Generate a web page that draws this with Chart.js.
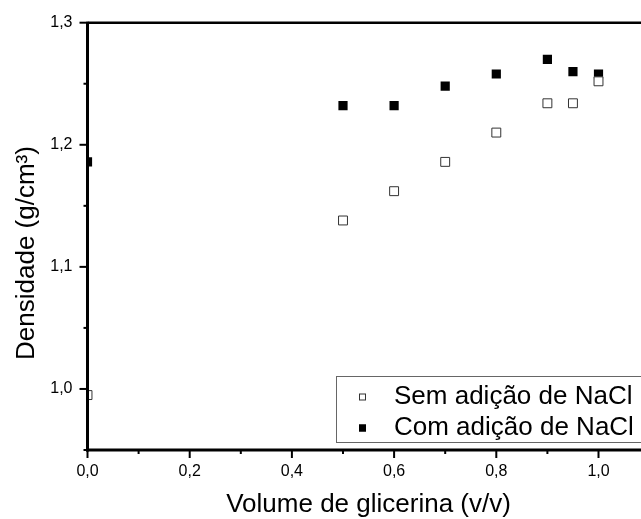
<!DOCTYPE html>
<html>
<head>
<meta charset="utf-8">
<script src="https://cdn.jsdelivr.net/npm/chart.js@4.4.1/dist/chart.umd.min.js"></script>
<style>
  body { margin: 0; background: #fff; }
  #wrap { width: 641px; height: 519px; overflow: hidden; }
</style>
</head>
<body>
<div id="wrap"><canvas id="chart" width="650" height="519"></canvas></div>
<script>
// data
const glycerol = [0, 0.5, 0.6, 0.7, 0.8, 0.9, 0.95, 1.0];
const semNaCl = [0.995, 1.138, 1.162, 1.186, 1.210, 1.234, 1.234, 1.252];
const comNaCl = [1.186, 1.232, 1.232, 1.248, 1.258, 1.270, 1.260, 1.258];
const seriesNames = ["Sem adição de NaCl", "Com adição de NaCl"];
const xTitle = "Volume de glicerina (v/v)";
const yTitle = "Densidade (g/cm³)";

const FONT = "'Liberation Sans', Arial, sans-serif";
const toPoints = (ys) => glycerol.map((x, i) => ({ x: x, y: ys[i] }));
const comma = (v, dec) => v.toFixed(dec).replace(".", ",");

// axes, tick marks, y title and boxed legend drawn by hand
const frame = {
  id: "frame",
  afterDatasetsDraw(chart) {
    const { ctx, chartArea: a, scales: { x, y } } = chart;
    const line = (x1, y1, x2, y2) => { ctx.beginPath(); ctx.moveTo(x1, y1); ctx.lineTo(x2, y2); ctx.stroke(); };
    ctx.save();
    ctx.strokeStyle = "#000";

    // tick marks (major = labelled)
    ctx.lineWidth = 2;
    x.ticks.forEach(t => {
      const px = x.getPixelForValue(t.value);
      line(px, a.bottom, px, a.bottom + (t.label ? 8 : 4));
    });
    y.ticks.forEach(t => {
      const py = y.getPixelForValue(t.value);
      line(a.left, py, a.left - (t.label ? 8 : 4), py);
    });

    // axis lines
    ctx.lineWidth = 3;
    line(a.left, a.top - 1, a.left, a.bottom + 1.5);
    line(a.left - 1.5, a.bottom, a.right + 5, a.bottom);
    ctx.lineWidth = 2.5;
    line(a.left, a.top, a.right + 5, a.top);

    // y title
    ctx.save();
    ctx.translate(33.5, 253);
    ctx.rotate(-Math.PI / 2);
    ctx.font = "26px " + FONT;
    ctx.fillStyle = "#000";
    ctx.textAlign = "center";
    ctx.textBaseline = "alphabetic";
    ctx.fillText(yTitle, 0, 0);
    ctx.restore();

    // legend
    ctx.lineWidth = 1;
    ctx.strokeStyle = "#666";
    ctx.fillStyle = "#fff";
    ctx.fillRect(336.5, 376.5, 400, 66);
    ctx.strokeRect(336.5, 376.5, 400, 66);
    const rows = [{ mark: 397, base: 404 }, { mark: 428, base: 435.3 }];
    chart.data.datasets.forEach((ds, i) => {
      const r = rows[i];
      ctx.fillStyle = ds.backgroundColor;
      ctx.fillRect(359, r.mark - 3.5, 7, 7);
      ctx.strokeStyle = ds.borderColor;
      ctx.strokeRect(359.5, r.mark - 3, 6, 6);
      ctx.fillStyle = "#000";
      ctx.font = "26px " + FONT;
      ctx.textAlign = "left";
      ctx.fillText(ds.label, 394, r.base);
    });
    ctx.restore();
  }
};

new Chart(document.getElementById("chart"), {
  type: "scatter",
  data: {
    datasets: [
      {
        label: seriesNames[0],
        data: toPoints(semNaCl),
        pointStyle: "rect",
        pointRadius: 6.3,
        backgroundColor: "#fff",
        borderColor: "#333",
        borderWidth: 1,
        clip: 0
      },
      {
        label: seriesNames[1],
        data: toPoints(comNaCl),
        pointStyle: "rect",
        pointRadius: 6.5,
        backgroundColor: "#000",
        borderColor: "#000",
        borderWidth: 0,
        clip: 0
      }
    ]
  },
  options: {
    responsive: false,
    animation: false,
    events: [],
    layout: { autoPadding: false, padding: { top: 22.7, right: 0.4, left: 0, bottom: 0 } },
    plugins: { legend: { display: false }, tooltip: { enabled: false } },
    scales: {
      x: {
        type: "linear",
        min: 0,
        max: 1.1,
        afterFit: s => { s.height = 69; s.paddingLeft = 0; s.paddingRight = 0; },
        grid: { display: false, drawTicks: false },
        border: { display: false },
        ticks: {
          stepSize: 0.1,
          autoSkip: false,
          maxRotation: 0,
          padding: 0,
          color: "#000",
          font: { family: FONT, size: 16, lineHeight: 2.75 },
          callback: v => (Math.round(v * 10) % 2 === 0 ? comma(v, 1) : "")
        },
        title: {
          display: true,
          text: xTitle,
          color: "#000",
          font: { family: FONT, size: 26, lineHeight: 1.1 },
          padding: { top: 0, bottom: 0 }
        }
      },
      y: {
        min: 0.95,
        max: 1.3,
        afterFit: s => { s.width = 87.5; s.paddingTop = 0; s.paddingBottom = 0; },
        grid: { display: false, drawTicks: false },
        border: { display: false },
        ticks: {
          stepSize: 0.05,
          autoSkip: false,
          padding: 15,
          color: "#000",
          font: { family: FONT, size: 16 },
          callback: v => (Math.round(v * 100) % 10 === 0 ? comma(v, 1) : "")
        }
      }
    }
  },
  plugins: [frame]
});
</script>
</body>
</html>
